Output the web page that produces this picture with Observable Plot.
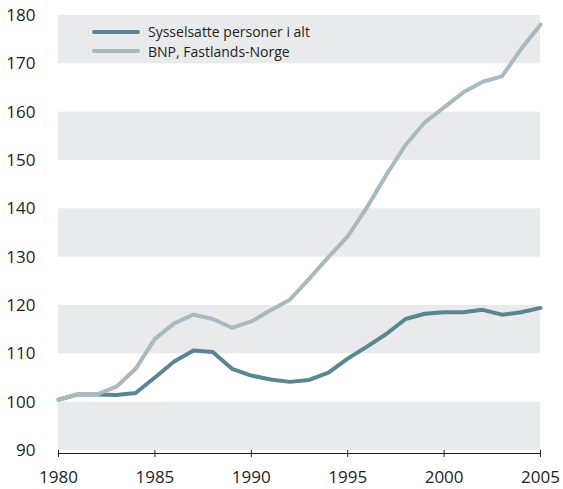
<!DOCTYPE html>
<html>
<head>
<meta charset="utf-8">
<script src="https://cdn.jsdelivr.net/npm/d3@7"></script>
<script src="https://cdn.jsdelivr.net/npm/@observablehq/plot@0.6"></script>
<style>
  html, body { margin: 0; padding: 0; background: #fff; }
  #wrap { position: relative; width: 563px; height: 489px; font-family: "Open Sans", sans-serif; color: #231f20; }
  #legend { position: absolute; left: 92px; top: 22px; font-size: 14px; line-height: 19.5px; }
  .item { display: flex; align-items: center; white-space: nowrap; }
  .sw { display: inline-block; width: 48px; height: 4px; border-radius: 2px; margin-right: 8px; }
</style>
</head>
<body>
<div id="wrap"><div id="legend"></div></div>
<script>
const years = d3.range(1980, 2006);
const sysselsatte = [100.5, 101.6, 101.6, 101.5, 101.9, 105.1, 108.4, 110.7, 110.4, 106.9,
  105.5, 104.7, 104.2, 104.6, 106.1, 109.0, 111.5, 114.1, 117.2, 118.3,
  118.6, 118.6, 119.1, 118.1, 118.6, 119.5];
const bnp = [100.5, 101.6, 101.6, 103.2, 106.9, 113.1, 116.3, 118.1, 117.2, 115.4,
  116.7, 119.0, 121.2, 125.5, 130.0, 134.3, 140.3, 147.0, 153.2, 157.9,
  161.0, 164.1, 166.3, 167.4, 173.1, 178.1];
const seriesNames = ["Sysselsatte personer i alt", "BNP, Fastlands-Norge"];
const seriesColors = ["#5b8590", "#aab9bf"];
const bandColor = "#e9eaeb";
const bandLows = [90, 110, 130, 150, 170];
const yTicks = [90, 100, 110, 120, 130, 140, 150, 160, 170, 180];
const xTicks = [1980, 1985, 1990, 1995, 2000, 2005];

const rows = [];
years.forEach((y, i) => {
  rows.push({year: y, value: sysselsatte[i], series: seriesNames[0]});
  rows.push({year: y, value: bnp[i], series: seriesNames[1]});
});
const bands = bandLows.map(b => ({lo: b, hi: b + 10}));

const chart = Plot.plot({
  width: 563,
  height: 489,
  marginLeft: 58,
  marginRight: 23,
  marginTop: 15,
  marginBottom: 39,
  style: {fontFamily: "Open Sans, sans-serif", fontSize: "17px", color: "#231f20", background: "transparent"},
  x: {domain: [1980, 2005]},
  y: {domain: [90, 180]},
  marks: [
    Plot.rect(bands, {x1: 1980, x2: 2005, y1: "lo", y2: "hi", fill: bandColor}),
    Plot.ruleY([90], {stroke: "#231f20", strokeWidth: 1, dy: 3}),
    Plot.axisX({ticks: xTicks, tickFormat: d => String(d), tickSize: 7, tickPadding: 13, label: null, stroke: "#231f20", fill: "#231f20"}),
    Plot.axisY({ticks: yTicks, tickSize: 0, tickPadding: 23, label: null, fill: "#231f20"}),
    Plot.line(rows.filter(d => d.series === seriesNames[0]), {x: "year", y: "value", stroke: seriesColors[0], strokeWidth: 4, strokeLinejoin: "round", strokeLinecap: "round"}),
    Plot.line(rows.filter(d => d.series === seriesNames[1]), {x: "year", y: "value", stroke: seriesColors[1], strokeWidth: 4, strokeLinejoin: "round", strokeLinecap: "round"})
  ]
});
const wrap = document.getElementById("wrap");
wrap.insertBefore(chart, wrap.firstChild);

const legend = document.getElementById("legend");
seriesNames.forEach((n, i) => {
  const it = document.createElement("div");
  it.className = "item";
  const sw = document.createElement("span");
  sw.className = "sw";
  sw.style.background = seriesColors[i];
  const t = document.createElement("span");
  t.textContent = n;
  it.appendChild(sw); it.appendChild(t);
  legend.appendChild(it);
});
</script>
</body>
</html>
